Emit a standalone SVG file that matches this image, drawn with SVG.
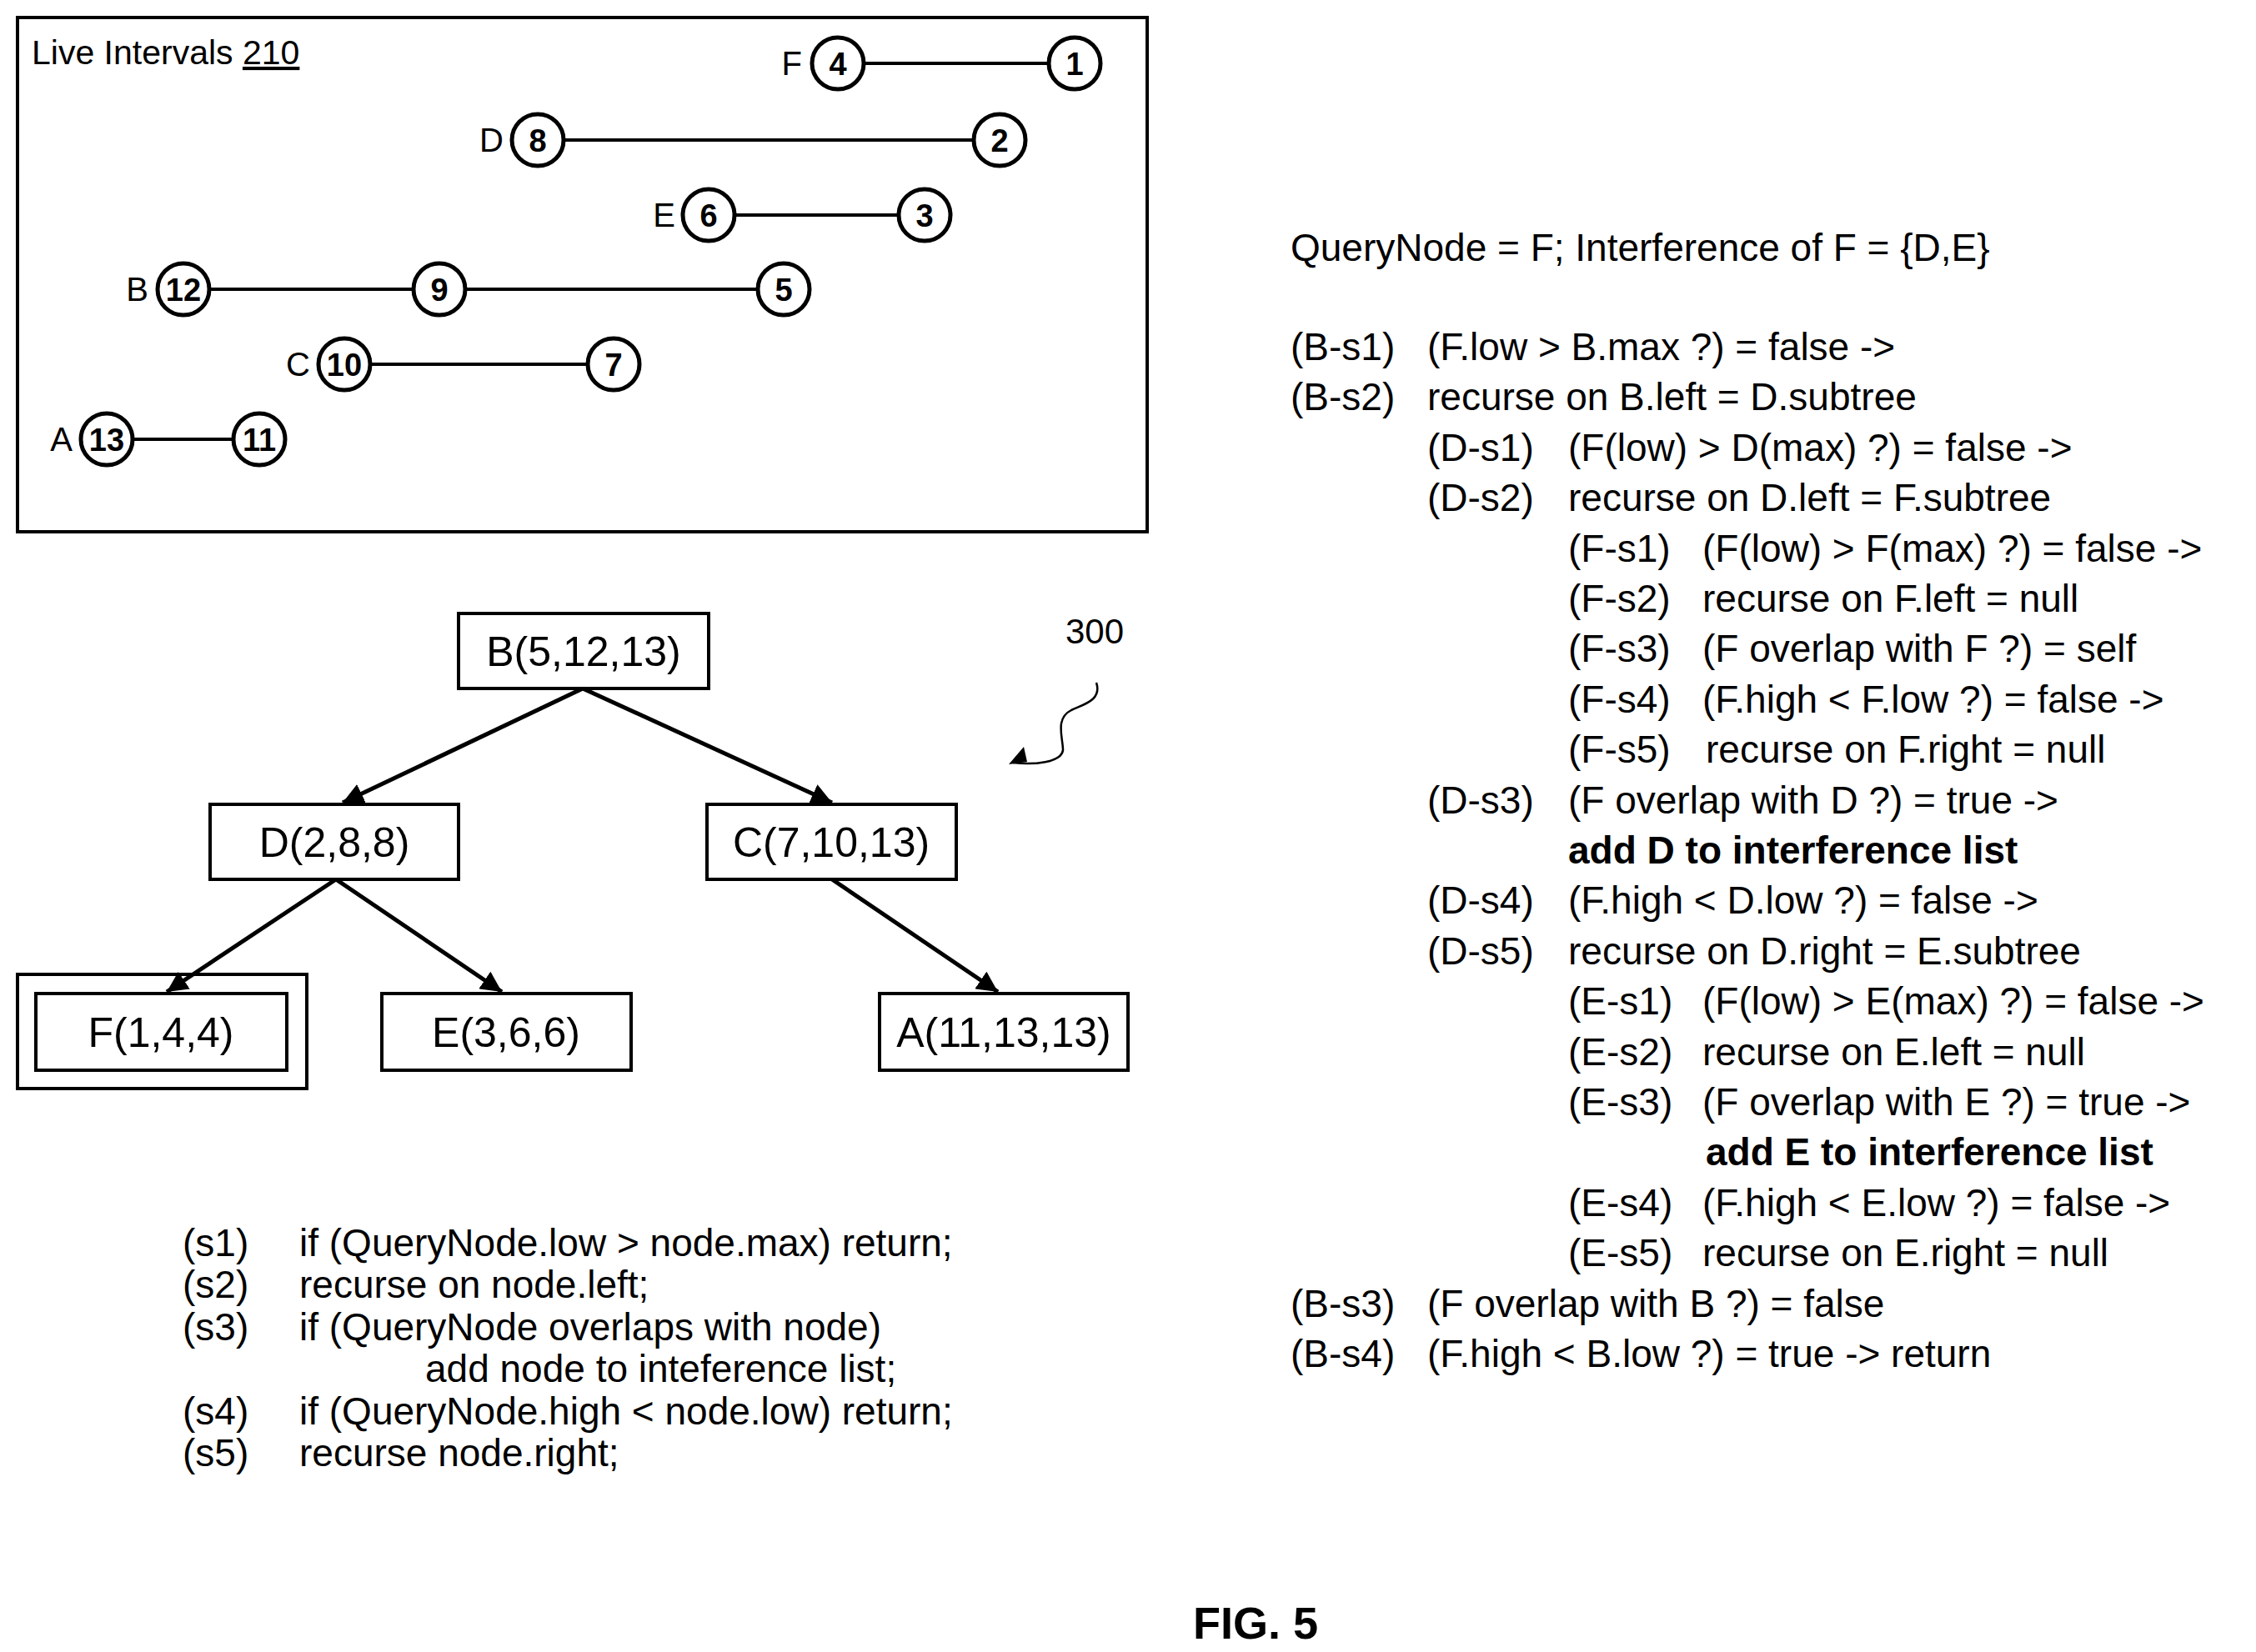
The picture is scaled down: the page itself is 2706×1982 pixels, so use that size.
<svg xmlns="http://www.w3.org/2000/svg" width="2706" height="1982" viewBox="0 0 2706 1982">
<style>
text{font-family:"Liberation Sans",Arial,sans-serif;fill:#000}
.c{fill:#fff;stroke:#000;stroke-width:5}
.n{font-size:38px;font-weight:bold;text-anchor:middle}
.l{font-size:40px;text-anchor:end}
.bx{fill:#fff;stroke:#000;stroke-width:4}
.t{font-size:50px;text-anchor:middle}
.r{font-size:46px}
.p{font-size:46px}
.e{stroke:#000;stroke-width:5;fill:none}
.seg{stroke:#000;stroke-width:4}
</style>
<defs>
<marker id="ah" viewBox="0 0 10 10" refX="10" refY="5" markerWidth="5" markerHeight="5" orient="auto" markerUnits="strokeWidth"><path d="M0,0L10,5L0,10z" fill="#000"/></marker>
</defs>
<rect x="21" y="21" width="1355" height="617" fill="none" stroke="#000" stroke-width="4"/>
<text x="38" y="77" style="font-size:41px">Live Intervals <tspan text-decoration="underline">210</tspan></text>
<g id="intervals">
<line class="seg" x1="1005" y1="76" x2="1289" y2="76"/>
<line class="seg" x1="645" y1="168" x2="1199" y2="168"/>
<line class="seg" x1="850" y1="258" x2="1109" y2="258"/>
<line class="seg" x1="220" y1="347" x2="940" y2="347"/>
<line class="seg" x1="413" y1="437" x2="736" y2="437"/>
<line class="seg" x1="128" y1="527" x2="311" y2="527"/>
</g>
<g id="intF"><text class="l" x="962" y="90">F</text><circle class="c" cx="1005" cy="76" r="31"/><text class="n" x="1005" y="90">4</text><circle class="c" cx="1289" cy="76" r="31"/><text class="n" x="1289" y="90">1</text></g>
<g id="intD"><text class="l" x="604" y="182">D</text><circle class="c" cx="645" cy="168" r="31"/><text class="n" x="645" y="182">8</text><circle class="c" cx="1199" cy="168" r="31"/><text class="n" x="1199" y="182">2</text></g>
<g id="intE"><text class="l" x="810" y="272">E</text><circle class="c" cx="850" cy="258" r="31"/><text class="n" x="850" y="272">6</text><circle class="c" cx="1109" cy="258" r="31"/><text class="n" x="1109" y="272">3</text></g>
<g id="intB"><text class="l" x="178" y="361">B</text><circle class="c" cx="220" cy="347" r="31"/><text class="n" x="220" y="361">12</text><circle class="c" cx="527" cy="347" r="31"/><text class="n" x="527" y="361">9</text><circle class="c" cx="940" cy="347" r="31"/><text class="n" x="940" y="361">5</text></g>
<g id="intC"><text class="l" x="372" y="451">C</text><circle class="c" cx="413" cy="437" r="31"/><text class="n" x="413" y="451">10</text><circle class="c" cx="736" cy="437" r="31"/><text class="n" x="736" y="451">7</text></g>
<g id="intA"><text class="l" x="87" y="541">A</text><circle class="c" cx="128" cy="527" r="31"/><text class="n" x="128" y="541">13</text><circle class="c" cx="311" cy="527" r="31"/><text class="n" x="311" y="541">11</text></g>

<text x="1313" y="772" style="font-size:42px" text-anchor="middle">300</text>
<g id="nB"><rect class="bx" x="550" y="736" width="300" height="90"/><text class="t" x="700" y="799">B(5,12,13)</text></g>
<g id="nD"><rect class="bx" x="252" y="965" width="298" height="90"/><text class="t" x="401" y="1028">D(2,8,8)</text></g>
<g id="nC"><rect class="bx" x="848" y="965" width="299" height="90"/><text class="t" x="997" y="1028">C(7,10,13)</text></g>
<g id="nF"><rect class="bx" x="21" y="1169" width="347" height="137"/><rect class="bx" x="43" y="1192" width="301" height="92"/><text class="t" x="193" y="1256">F(1,4,4)</text></g>
<g id="nE"><rect class="bx" x="458" y="1192" width="299" height="92"/><text class="t" x="607" y="1256">E(3,6,6)</text></g>
<g id="nA"><rect class="bx" x="1055" y="1192" width="298" height="92"/><text class="t" x="1204" y="1256">A(11,13,13)</text></g>

<g id="connectors">
<line class="e" x1="699" y1="826" x2="411" y2="963" marker-end="url(#ah)"/>
<line class="e" x1="699" y1="826" x2="998" y2="963" marker-end="url(#ah)"/>
<line class="e" x1="403" y1="1055" x2="200" y2="1190" marker-end="url(#ah)"/>
<line class="e" x1="403" y1="1055" x2="602" y2="1190" marker-end="url(#ah)"/>
<line class="e" x1="998" y1="1055" x2="1197" y2="1190" marker-end="url(#ah)"/>
<path d="M1315,819 C1322,840 1300,845 1285,852 C1265,862 1275,885 1275,900 C1273,915 1240,918 1215,915" fill="none" stroke="#000" stroke-width="2.5"/>
<path d="M1210,917 L1228,896 L1232,914 z" fill="#000"/>
</g>

<g id="pseudocode">
<text x="219" y="1507" class="p">(s1)</text><text x="359" y="1507" class="p">if (QueryNode.low &gt; node.max) return;</text>
<text x="219" y="1557" class="p">(s2)</text><text x="359" y="1557" class="p">recurse on node.left;</text>
<text x="219" y="1608" class="p">(s3)</text><text x="359" y="1608" class="p">if (QueryNode overlaps with node)</text>
<text x="510" y="1658" class="p">add node to inteference list;</text>
<text x="219" y="1709" class="p">(s4)</text><text x="359" y="1709" class="p">if (QueryNode.high &lt; node.low) return;</text>
<text x="219" y="1759" class="p">(s5)</text><text x="359" y="1759" class="p">recurse node.right;</text>
</g>

<g id="trace">
<text class="r" x="1548" y="313">QueryNode = F; Interference of F = {D,E}</text>
<text class="r" x="1548" y="432">(B-s1)</text><text class="r" x="1712" y="432">(F.low &gt; B.max ?) = false -&gt;</text>
<text class="r" x="1548" y="492">(B-s2)</text><text class="r" x="1712" y="492">recurse on B.left = D.subtree</text>
<text class="r" x="1712" y="553">(D-s1)</text><text class="r" x="1881" y="553">(F(low) &gt; D(max) ?) = false -&gt;</text>
<text class="r" x="1712" y="613">(D-s2)</text><text class="r" x="1881" y="613">recurse on D.left = F.subtree</text>
<text class="r" x="1881" y="674">(F-s1)</text><text class="r" x="2042" y="674">(F(low) &gt; F(max) ?) = false -&gt;</text>
<text class="r" x="1881" y="734">(F-s2)</text><text class="r" x="2042" y="734">recurse on F.left = null</text>
<text class="r" x="1881" y="794">(F-s3)</text><text class="r" x="2042" y="794">(F overlap with F ?) = self</text>
<text class="r" x="1881" y="855">(F-s4)</text><text class="r" x="2042" y="855">(F.high &lt; F.low ?) = false -&gt;</text>
<text class="r" x="1881" y="915">(F-s5)</text><text class="r" x="2046" y="915">recurse on F.right = null</text>
<text class="r" x="1712" y="976">(D-s3)</text><text class="r" x="1881" y="976">(F overlap with D ?) = true -&gt;</text>
<text class="r" x="1881" y="1036" font-weight="bold">add D to interference list</text>
<text class="r" x="1712" y="1096">(D-s4)</text><text class="r" x="1881" y="1096">(F.high &lt; D.low ?) = false -&gt;</text>
<text class="r" x="1712" y="1157">(D-s5)</text><text class="r" x="1881" y="1157">recurse on D.right = E.subtree</text>
<text class="r" x="1881" y="1217">(E-s1)</text><text class="r" x="2042" y="1217">(F(low) &gt; E(max) ?) = false -&gt;</text>
<text class="r" x="1881" y="1278">(E-s2)</text><text class="r" x="2042" y="1278">recurse on E.left = null</text>
<text class="r" x="1881" y="1338">(E-s3)</text><text class="r" x="2042" y="1338">(F overlap with E ?) = true -&gt;</text>
<text class="r" x="2046" y="1398" font-weight="bold">add E to interference list</text>
<text class="r" x="1881" y="1459">(E-s4)</text><text class="r" x="2042" y="1459">(F.high &lt; E.low ?) = false -&gt;</text>
<text class="r" x="1881" y="1519">(E-s5)</text><text class="r" x="2042" y="1519">recurse on E.right = null</text>
<text class="r" x="1548" y="1580">(B-s3)</text><text class="r" x="1712" y="1580">(F overlap with B ?) = false</text>
<text class="r" x="1548" y="1640">(B-s4)</text><text class="r" x="1712" y="1640">(F.high &lt; B.low ?) = true -&gt; return</text>
</g>
<text x="1506" y="1966" style="font-size:54px;font-weight:bold" text-anchor="middle">FIG. 5</text>
</svg>
